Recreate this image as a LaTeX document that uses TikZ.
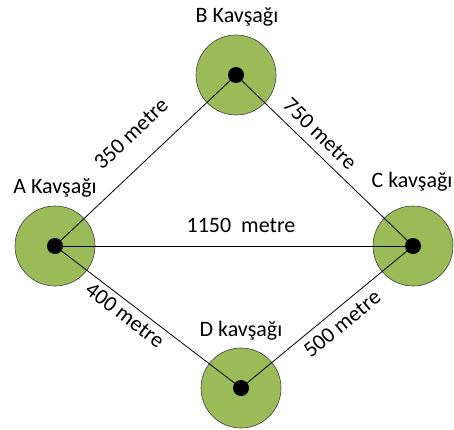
\documentclass[tikz,border=0pt]{standalone}
\usepackage{fontspec}
\setmainfont{Carlito}
\definecolor{junc}{HTML}{9BBB59}
\begin{document}
\begin{tikzpicture}[x=1pt,y=1pt,
  ring/.style={circle,fill=junc,draw=black!75,line width=0.6pt,minimum size=80pt,inner sep=0pt},
  dot/.style={circle,fill=black,minimum size=16pt,inner sep=0pt},
  road/.style={draw=black,line width=0.8pt},
  jname/.style={font=\fontsize{22}{26}\selectfont,inner sep=0pt,anchor=base},
  dist/.style={font=\fontsize{22}{26}\selectfont,inner sep=0pt,anchor=center}]
\useasboundingbox (0,0) rectangle (454,429);
\node[ring] (ra) at (55,183) {};
\node[ring] (rb) at (236,354) {};
\node[ring] (rc) at (413,183) {};
\node[ring] (rd) at (241,41) {};
\coordinate (a) at (55,183);
\coordinate (b) at (236,354);
\coordinate (c) at (413,183);
\coordinate (d) at (241,41);
\draw[road] (a) -- (b);
\draw[road] (b) -- (c);
\draw[road] (a) -- (c);
\draw[road] (a) -- (d);
\draw[road] (d) -- (c);
\node[dot] (da) at (a) {};
\node[dot] (db) at (b) {};
\node[dot] (dc) at (c) {};
\node[dot] (dd) at (d) {};
\node[jname] (la) at (55,236) {A Kavşağı};
\node[jname] (lb) at (237,406) {B Kavşağı};
\node[jname] (lc) at (412,242) {C kavşağı};
\node[jname] (ld) at (241,93) {D kavşağı};
\node[dist,rotate=43.4] (eab) at (131,295) {350 metre};
\node[dist,rotate=-44] (ebc) at (320,295) {750 metre};
\node[dist] (eac) at (241,204) {1150\ \ metre};
\node[dist,rotate=-37.4] (ead) at (125,114) {400 metre};
\node[dist,rotate=39.5] (edc) at (342,105) {500 metre};
\end{tikzpicture}
\end{document}
